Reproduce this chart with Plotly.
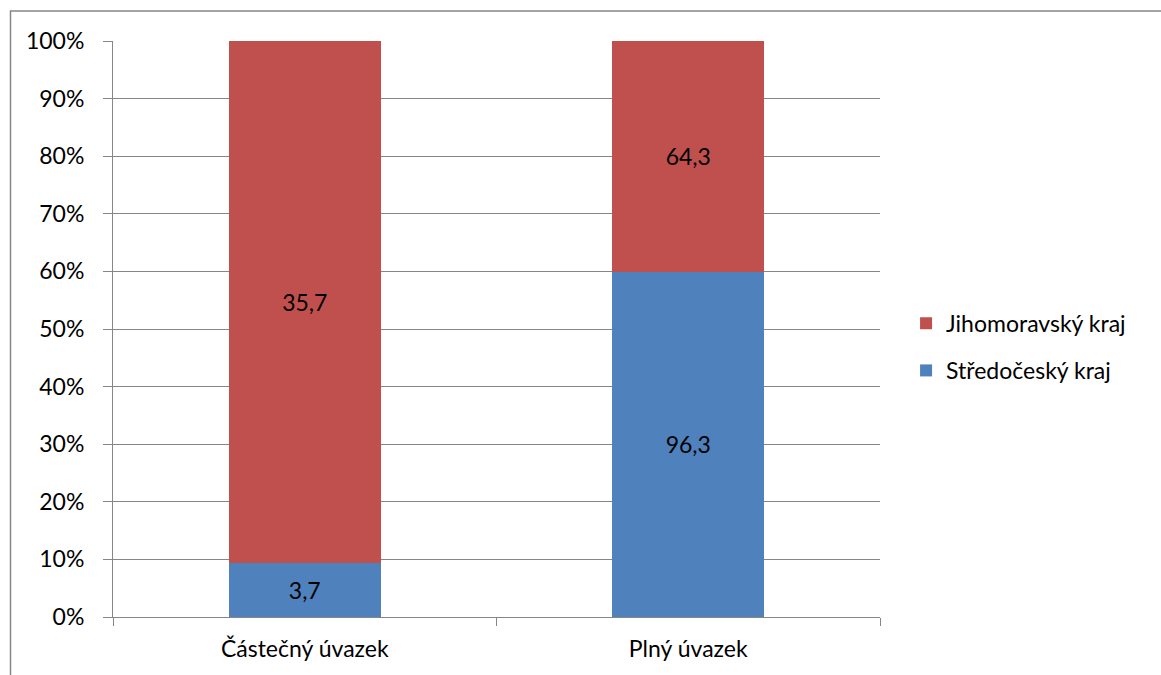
import plotly.graph_objects as go

categories = ["Částečný úvazek", "Plný úvazek"]
stredocesky = [3.7, 96.3]
jihomoravsky = [35.7, 64.3]
y_ticks = [0, 10, 20, 30, 40, 50, 60, 70, 80, 90, 100]
y_tick_labels = [f"{t}%" for t in y_ticks]

FONT = "Lato"
SIZE = 23
BLUE = "#4F81BD"
RED = "#C0504D"
GRID = "#868686"


def label(v):
    return f"{v:.1f}".replace(".", ",")


fig = go.Figure()
fig.add_trace(go.Bar(
    x=categories, y=stredocesky, name="Středočeský kraj",
    marker=dict(color=BLUE, line=dict(width=0)),
    text=[label(v) for v in stredocesky], textposition="inside",
    insidetextanchor="middle", textangle=0,
    textfont=dict(color="black", size=SIZE, family=FONT),
    legend="legend2",
))
fig.add_trace(go.Bar(
    x=categories, y=jihomoravsky, name="Jihomoravský kraj",
    marker=dict(color=RED, line=dict(width=0)),
    text=[label(v) for v in jihomoravsky], textposition="inside",
    insidetextanchor="middle", textangle=0,
    textfont=dict(color="black", size=SIZE, family=FONT),
    legend="legend",
))

legend_style = dict(
    font=dict(family=FONT, size=SIZE, color="black"),
    bgcolor="rgba(0,0,0,0)", xanchor="left", yanchor="middle",
    itemclick=False, visible=True,
)

fig.update_layout(
    width=1161, height=675,
    margin=dict(l=113, r=281, t=41, b=58),
    paper_bgcolor="white", plot_bgcolor="white",
    barmode="stack", barnorm="percent", bargap=0.603,
    font=dict(family=FONT, size=SIZE, color="black"),
    showlegend=True,
    legend=dict(x=1.034, y=0.51, **legend_style),
    legend2=dict(x=1.034, y=0.428, **legend_style),
    xaxis=dict(
        showgrid=False, showline=True, linecolor=GRID, linewidth=1,
        ticks="outside", tickson="boundaries", ticklen=8, tickcolor=GRID,
        tickfont=dict(family=FONT, size=SIZE, color="black"),
        ticklabelstandoff=11,
    ),
    yaxis=dict(
        range=[0, 100], tickmode="array", tickvals=y_ticks,
        ticktext=y_tick_labels,
        showgrid=True, gridcolor=GRID, gridwidth=1,
        showline=True, linecolor=GRID, linewidth=1,
        ticks="outside", ticklen=9, tickcolor=GRID,
        tickfont=dict(family=FONT, size=SIZE, color="black"),
        ticklabelstandoff=14, zeroline=False,
    ),
    shapes=[
        dict(type="rect", xref="paper", yref="paper",
             x0=(10.5 - 113) / 767, x1=(1180 - 113) / 767,
             y0=(617 - 700) / 576, y1=1 + (41 - 11) / 576,
             line=dict(color=GRID, width=1.5), layer="below"),
    ],
)

fig.write_html("out.html")
